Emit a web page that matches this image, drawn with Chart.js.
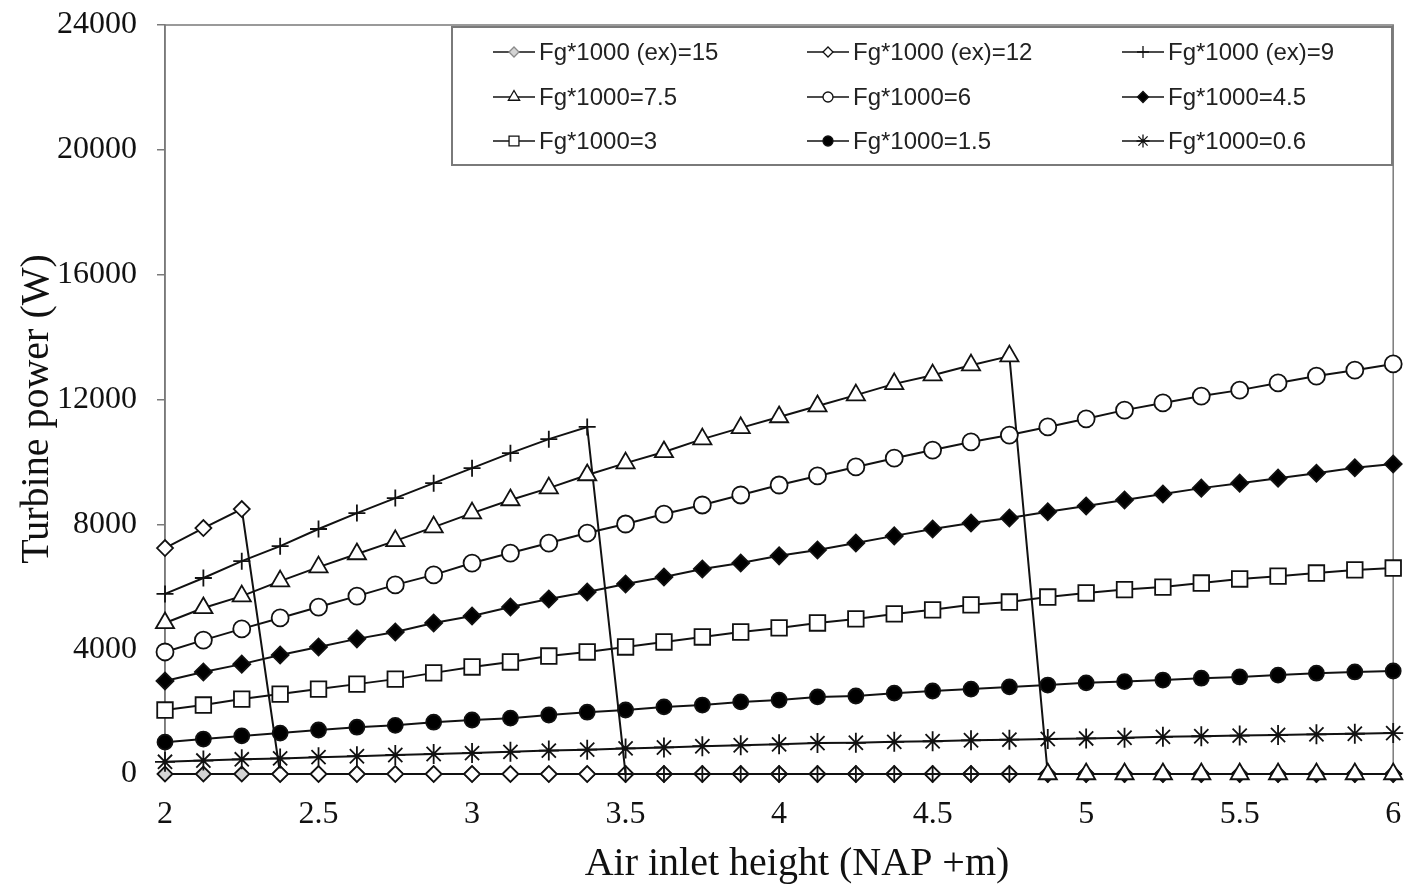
<!DOCTYPE html>
<html>
<head>
<meta charset="utf-8">
<title>Turbine power vs air inlet height</title>
<script src="https://cdn.jsdelivr.net/npm/chart.js@4.4.1/dist/chart.umd.min.js"></script>
<style>
  body { margin: 0; background: #fff; }
  canvas { display: block; }
</style>
</head>
<body>
<canvas id="chart" width="1406" height="893"></canvas>
<script>
'use strict';

// air inlet heights (NAP +m), a point every 0.125 m
var heights = [2, 2.125, 2.25, 2.375, 2.5, 2.625, 2.75, 2.875, 3, 3.125, 3.25,
  3.375, 3.5, 3.625, 3.75, 3.875, 4, 4.125, 4.25, 4.375, 4.5, 4.625, 4.75,
  4.875, 5, 5.125, 5.25, 5.375, 5.5, 5.625, 5.75, 5.875, 6];

// turbine power (W) for each gate setting
var powerEx15 = [0, 0, 0, 0, 0, 0, 0, 0, 0, 0, 0, 0, 0, 0, 0, 0, 0, 0, 0, 0, 0,
  0, 0, 0, 0, 0, 0, 0, 0, 0, 0, 0, 0];
var powerEx12 = [7240, 7880, 8490, 0, 0, 0, 0, 0, 0, 0, 0, 0, 0, 0, 0, 0, 0, 0,
  0, 0, 0, 0, 0, 0, 0, 0, 0, 0, 0, 0, 0, 0, 0];
var powerEx9 = [5770, 6280, 6820, 7300, 7850, 8360, 8840, 9320, 9800, 10280,
  10730, 11120, 0, 0, 0, 0, 0, 0, 0, 0, 0, 0, 0, 0, 0, 0, 0, 0, 0, 0, 0, 0, 0];
var power75 = [4840, 5320, 5700, 6180, 6630, 7050, 7470, 7910, 8360, 8780, 9160,
  9580, 9960, 10320, 10730, 11090, 11440, 11790, 12140, 12500, 12780, 13100,
  13390, 0, 0, 0, 0, 0, 0, 0, 0, 0, 0];
var power6 = [3910, 4290, 4650, 5000, 5350, 5700, 6060, 6380, 6760, 7080, 7400,
  7720, 8010, 8330, 8620, 8940, 9260, 9550, 9840, 10120, 10380, 10640, 10860,
  11120, 11380, 11660, 11890, 12110, 12300, 12530, 12750, 12940, 13140];
var power45 = [2980, 3270, 3520, 3810, 4070, 4330, 4550, 4840, 5060, 5350, 5610,
  5830, 6090, 6310, 6570, 6760, 6990, 7180, 7400, 7630, 7850, 8040, 8200, 8400,
  8590, 8780, 8970, 9160, 9320, 9480, 9640, 9810, 9930];
var power3 = [2050, 2210, 2400, 2560, 2720, 2880, 3040, 3240, 3430, 3590, 3780,
  3910, 4070, 4230, 4390, 4550, 4680, 4840, 4970, 5130, 5260, 5420, 5510, 5670,
  5800, 5910, 5990, 6120, 6250, 6340, 6440, 6540, 6600];
var power15 = [1020, 1120, 1220, 1310, 1410, 1500, 1560, 1660, 1730, 1790, 1890,
  1980, 2050, 2150, 2210, 2310, 2370, 2470, 2500, 2590, 2660, 2720, 2790, 2850,
  2920, 2960, 3010, 3070, 3110, 3170, 3230, 3270, 3300];
var power06 = [390, 430, 470, 500, 540, 570, 610, 640, 670, 710, 750, 780, 820,
  850, 890, 920, 950, 990, 1000, 1030, 1050, 1080, 1100, 1120, 1140, 1160, 1190,
  1210, 1230, 1250, 1270, 1290, 1310];

var seriesNames = ['Fg*1000 (ex)=15', 'Fg*1000 (ex)=12', 'Fg*1000 (ex)=9',
  'Fg*1000=7.5', 'Fg*1000=6', 'Fg*1000=4.5',
  'Fg*1000=3', 'Fg*1000=1.5', 'Fg*1000=0.6'];
var seriesValues = [powerEx15, powerEx12, powerEx9, power75, power6, power45,
  power3, power15, power06];

var xTicks = [2, 2.5, 3, 3.5, 4, 4.5, 5, 5.5, 6];
var yTicks = [0, 4000, 8000, 12000, 16000, 20000, 24000];

// marker look per series: style, radius in plot, radius in legend, fill
var markers = [
  { style: 'rectRot', r: 7.5, lr: 5, fill: '#d4d4d4' },
  { style: 'rectRot', r: 8, lr: 5, fill: '#ffffff' },
  { style: 'cross', r: 8.5, lr: 6, fill: '#ffffff' },
  { style: 'triangle', r: 10.5, lr: 6.5, fill: '#ffffff' },
  { style: 'circle', r: 8.5, lr: 5, fill: '#ffffff' },
  { style: 'rectRot', r: 8.5, lr: 5.5, fill: '#000000' },
  { style: 'rect', r: 11, lr: 7, fill: '#ffffff' },
  { style: 'circle', r: 7.5, lr: 5, fill: '#000000' },
  { style: 'star', r: 10, lr: 6.5, fill: '#ffffff' }
];

var ink = '#111111';
var frameGray = '#7a7a7a';

function toPoints(values) {
  var pts = [];
  for (var i = 0; i < heights.length; i++) {
    pts.push({ x: heights[i], y: values[i] });
  }
  return pts;
}

var datasets = [];
for (var i = 0; i < seriesValues.length; i++) {
  datasets.push({
    label: seriesNames[i],
    data: toPoints(seriesValues[i]),
    borderColor: ink,
    borderWidth: 2,
    pointStyle: markers[i].style,
    pointRadius: markers[i].r,
    pointBorderWidth: 1.8,
    pointBorderColor: ink,
    pointBackgroundColor: markers[i].fill,
    tension: 0,
    clip: false,
    // first series sits at the bottom of the stack
    order: seriesValues.length - i
  });
}

// plot frame behind the lines
var framePlugin = {
  id: 'frame',
  beforeDatasetsDraw: function(chart) {
    var a = chart.chartArea;
    var ctx = chart.ctx;
    ctx.save();
    ctx.strokeStyle = frameGray;
    ctx.lineWidth = 1.5;
    ctx.strokeRect(a.left, a.top, a.right - a.left, a.bottom - a.top);
    ctx.restore();
  }
};

// axis titles in serif type
var titlesPlugin = {
  id: 'titles',
  afterDraw: function(chart) {
    var ctx = chart.ctx;
    ctx.save();
    ctx.fillStyle = ink;
    ctx.font = '40px "Liberation Serif", "Times New Roman", serif';
    ctx.textAlign = 'center';
    ctx.textBaseline = 'middle';
    ctx.fillText('Air inlet height (NAP +m)', 797, 864);
    ctx.translate(37, 409);
    ctx.rotate(-Math.PI / 2);
    ctx.fillText('Turbine power (W)', 0, 0);
    ctx.restore();
  }
};

// boxed legend, three columns, line-and-marker samples
var legendPlugin = {
  id: 'boxLegend',
  afterDraw: function(chart) {
    var ctx = chart.ctx;
    var colX = [493, 807, 1122];
    var rowY = [52, 97, 141];
    ctx.save();
    ctx.fillStyle = '#ffffff';
    ctx.fillRect(452, 27, 940, 138);
    ctx.strokeStyle = frameGray;
    ctx.lineWidth = 2;
    ctx.strokeRect(452, 27, 940, 138);
    ctx.font = '24px "Liberation Sans", Arial, sans-serif';
    ctx.textBaseline = 'middle';
    ctx.textAlign = 'left';
    for (var i = 0; i < seriesNames.length; i++) {
      var x = colX[i % 3];
      var y = rowY[Math.floor(i / 3)];
      ctx.strokeStyle = ink;
      ctx.lineWidth = 1.5;
      ctx.beginPath();
      ctx.moveTo(x, y);
      ctx.lineTo(x + 42, y);
      ctx.stroke();
      ctx.fillStyle = markers[i].fill;
      ctx.strokeStyle = i === 0 ? '#8a8a8a' : ink;
      ctx.lineWidth = 1.3;
      Chart.helpers.drawPoint(ctx, {
        pointStyle: markers[i].style,
        radius: markers[i].lr,
        rotation: 0,
        borderWidth: 1.3
      }, x + 21, y);
      ctx.fillStyle = '#222222';
      ctx.fillText(seriesNames[i], x + 46, y + 1);
    }
    ctx.restore();
  }
};

var ctx = document.getElementById('chart').getContext('2d');
var chart = new Chart(ctx, {
  type: 'line',
  data: { datasets: datasets },
  options: {
    responsive: false,
    animation: false,
    layout: { padding: { top: 25, right: 9, left: 0, bottom: 0 } },
    plugins: {
      legend: { display: false },
      tooltip: { enabled: false }
    },
    scales: {
      x: {
        type: 'linear',
        min: 2,
        max: 6,
        afterFit: function(scale) {
          scale.height = 119;
          scale.paddingLeft = 0;
          scale.paddingRight = 0;
        },
        afterBuildTicks: function(scale) {
          scale.ticks = xTicks.map(function(v) { return { value: v }; });
        },
        grid: { display: false, drawTicks: false },
        border: { display: false },
        ticks: {
          padding: 21,
          color: ink,
          font: { family: '"Liberation Serif", "Times New Roman", serif', size: 32 },
          callback: function(v) { return String(v); }
        }
      },
      y: {
        min: 0,
        max: 24000,
        afterFit: function(scale) {
          scale.width = 165;
          scale.paddingTop = 0;
          scale.paddingBottom = 0;
        },
        afterBuildTicks: function(scale) {
          scale.ticks = yTicks.map(function(v) { return { value: v }; });
        },
        grid: {
          drawOnChartArea: false,
          drawTicks: true,
          tickLength: 8,
          color: frameGray,
          lineWidth: 1.5
        },
        border: { display: true, color: frameGray, width: 1.5 },
        ticks: {
          padding: 20,
          color: ink,
          font: { family: '"Liberation Serif", "Times New Roman", serif', size: 32 },
          callback: function(v) { return String(v); }
        }
      }
    }
  },
  plugins: [framePlugin, titlesPlugin, legendPlugin]
});
</script>
</body>
</html>
